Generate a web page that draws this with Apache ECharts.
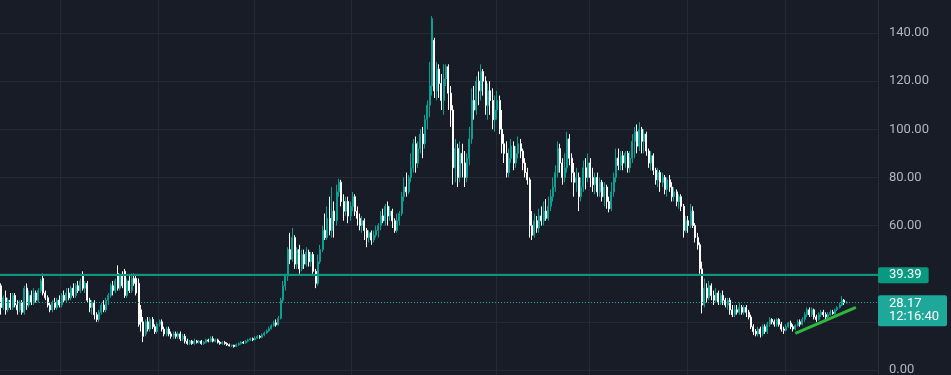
<!DOCTYPE html>
<html>
<head>
<meta charset="utf-8">
<script src="https://cdn.jsdelivr.net/npm/echarts@6.0.0/dist/echarts.min.js"></script>
<style>
html,body{margin:0;padding:0;background:#181c27;}
#chart{width:951px;height:375px;}
</style>
</head>
<body>
<div id="chart"></div>
<script>
// candles: [open, close, low, high]
const ohlc = [
[35,26,23,36],[26,30,25,31],[30,25,23,33],[25,29,24,30],[29,26,25,32],[26,31,25,32],[31,27,26,32],[27,25,23,29],[25,28,24,29],[28,24,23,29],
[24,34,23,35],[34,27,25,36],[27,31,26,33],[31,28,27,33],[28,32,27,34],[32,29,28,33],[29,33,28,34],[33,37,32,38],[38,32,31,40],[32,30,29,33],
[30,27,26,31],[27,25,24,28],[25,28,24,29],[28,26,25,30],[26,29,25,30],[29,27,26,31],[27,31,26,32],[31,29,28,33],[29,32,28,34],[32,30,29,34],
[30,34,29,35],[34,31,30,36],[31,35,30,36],[35,33,32,37],[33,37,32,38],[39,34,33,41],[34,36,32,37],[36,29,28,37],[29,26,24,30],[26,28,23,29],
[28,23,21,29],[23,21,20,24],[21,24,20,25],[24,27,23,28],[27,25,24,29],[25,29,24,30],[29,31,27,32],[31,35,30,36],[35,33,31,37],[33,37,32,38],
[40,34,33,43.5],[34,39,33,40],[39,35,34,41],[41,31,30,42],[31,37,30,38],[37,33,32,39],[33,38,32,40],[38,36,35,40],[38,32,31,39],[36,19,18,38],
[25,20,16,27],[20,14,11.6,22],[15,20,14,21],[20,17,16,22],[17,21,16,22],[21,18,17,22],[18,16,15,19],[16,19,15,20],[19,20,18,21],[20,17,16,21],
[17,15,14,18],[15,17,14,18],[17,15,14,18],[15,14,13,16],[14,15,13,16],[15,14,13,16],[14,15,13,16],[15,13,12,16],[13,14,12,15],[14,12,11,15],
[12,11,10.5,13],[11,12,10.5,12.5],[12,11,10.5,12.5],[11,12,10.5,13],[12,11.5,11,12.5],[11.5,12,11,12.5],[12,11,10.5,12.5],[11,11.5,10.5,12],[11.5,12.5,11,13],[12.5,12,11.5,13],
[12,13,11.5,14],[13,12,11.5,14],[12,12.5,11.5,13],[12.5,11.5,11,13],[11.5,11,10.5,12],[11,11.5,10.5,12],[11.5,11,10.5,12],[11,10.5,10,11.5],[10.5,10,9.8,11],[10,10.3,9.5,10.5],
[10.3,9.8,9.3,10.5],[9.8,10.5,9.5,11],[10.5,11,10,11.5],[11,11.5,10.5,12],[11.5,11.2,10.8,12],[11.2,12,11,12.5],[12,12.5,11.5,13],[12.5,13,12,13.5],[13,12.6,12,13.5],[12.6,13.2,12.3,14],
[13.2,14,13,14.5],[14,13.6,13,14.5],[13.6,14.6,13.2,15.2],[14.6,15.4,14,16],[15.4,16.2,15,16.8],[16.2,17.2,15.8,18],[17.2,18.4,16.8,19],[18.4,19.6,18,20.5],[19.6,18.8,18,21],[18.8,21.5,18.5,22.5],
[21.5,29,21,30],[29,35,28,37],[35,39,33,40],[39,50,37,51],[50,46,44,57],[46,55,45,59],[55,44,42,56],[44,50,42,51],[50,42,40,52],[42,48,41,50],
[48,44,42,50],[44,49,43,51],[49,45,43,50],[45,48,43,49],[48,41,40,49],[41,36,34,42],[36,45,35,48],[45,50,44,52],[50,58,49,60],[58,55,54,65],
[55,63,54,68],[63,58,56,72],[58,66,55,76],[66,62,55,70],[62,74,60,77],[74,78,72,79.5],[78,70,68,79],[70,66,62,73],[66,70,64,72],[70,64,61,72],
[64,68,62,70],[68,72,66,74],[72,66,64,73],[66,63,60,68],[63,60,58,65],[60,62,57,64],[62,58,54,63],[58,55,51,59],[55,57,53,58],[57,54,52,58],
[54,56,53,58],[56,58,55,60],[58,60,55,61],[60,64,58,66],[64,62,61,67],[62,68,60,69],[68,64,60,70],[64,66,62,68],[66,62,59,67],[62,58,57,63],
[58,62,57,65],[62,65,60,66],[65,72,64,74],[72,76,70,80],[76,74,72,82],[74,80,73,81],[80,84,78,90],[84,94,82,96],[94,86,82,97],[86,92,84,95],
[92,98,90,100],[98,94,88,101],[94,104,92,106],[104,110,100,112],[110,118,105,128],[118,146,114,147],[137,116,113,138],[116,125,112,128],[125,119,113,127],[119,112,108,123],
[112,121,106,127],[121,126,118,127],[126,115,108,127],[115,108,101,118],[108,84,77,110],[84,92,78,96],[92,80,76,94],[80,90,78,95],[90,86,80,94],[86,80,76,91],
[80,88,78,90],[88,96,85,101],[96,112,94,117],[112,108,104,118],[108,120,106,122],[120,116,110,124],[116,124,112,127],[124,120,114,125],[120,110,106,122],[110,116,104,119],
[116,112,106,120],[112,104,100,117],[104,108,99,114],[108,112,104,116],[112,100,98,114],[100,94,90,108],[94,90,86,98],[90,82,80,95],[82,88,80,92],[88,93,86,96],
[93,86,83,95],[86,90,84,93],[90,94,88,97],[94,91,88,96],[91,86,83,92],[86,82,80,88],[82,79,77,84],[79,60,55,80],[60,56,54,66],[56,62,55,65],
[62,59,57,64],[59,64,57,67],[64,62,60,68],[62,66,60,70],[66,63,62,71],[63,68,62,72],[68,72,66,75],[72,76,70,80],[76,82,74,85],[82,92,80,95],
[92,86,82,94],[86,80,77,88],[80,84,78,90],[84,96,82,99],[96,88,85,98],[88,82,78,90],[82,78,72,86],[78,80,74,84],[80,72,66,82],[72,76,70,80],
[76,84,74,87],[84,80,75,88],[80,86,78,90],[86,80,76,88],[80,77,74,84],[77,80,73,82],[80,74,72,82],[74,78,72,80],[78,72,70,79],[72,76,68,78],
[76,70,67,77],[70,67,65.5,72],[67,74,66,78],[74,80,72,82],[80,88,78,92],[88,85,83,92],[85,89,83,91],[89,86,83,91],[86,90,84,91],[90,84,82,91],
[84,88,82,91],[88,95,86,98],[95,99,88,101],[99,93,90,102],[93,100,91,103],[100,95,90,101],[95,98,90,100],[98,91,89,99],[91,86,84,92],[86,89,83,91],
[89,83,81,90],[83,79,77,84],[79,82,76,84],[82,78,74,83],[78,80,76,82],[80,75,73,81],[75,79,72,80],[79,76,74,81],[76,72,70,78],[72,74,70,76],
[74,70,68,75],[70,72,67,73],[72,68,66,73],[68,58,55,69],[58,62,57,64],[62,60,57,64],[60,66,59,69],[66,60,59,68],[60,55,53,61],[55,52,50,57],
[52,42,40,53],[42,27,23.5,45],[27,34,26,38],[34,30,28,36],[30,35,29,37],[35,31,29,36],[31,29,27,33],[29,32,28,34],[32,28,27,33],[28,31,27,32],
[31,29,27,33],[29,27,26,30],[27,29,25,30],[29,25,23,30],[25,23,22,27],[23,25,22,27],[25,24,23,27],[24,26,23,28],[26,24,23,27],[24,26,23,27],
[26,24,22,27],[24,22,21,25],[22,18,17,23],[18,16,14.5,19],[16,15,14,17],[15,17,14,18],[17,15,13.5,18],[15,18,14,19],[18,16,15,19],[16,19,15,20],
[19,21,18,22],[21,20,19,21.5],[20,19,18,21],[19,21,18,21.5],[21,19,18,21.5],[19,17,16,20],[17,16.5,15,18],[16.5,18,16,19],[18,19.5,17.5,20],[19.5,18,17,20.5],
[18,17,16,19],[17,18.5,16.5,19],[18.5,20,18,21],[20,19,18,21],[19,21,18.5,22],[21,23,20,24],[23,25,22,26],[25,23,22,26],[23,25,22,26],[25,22,21,25.5],
[22,21,20,23],[21,23,20.5,24],[23,24,22,25],[24,23,22,25],[23,22,21,24],[22,23,21.5,24],[23,24,22.5,25],[24,23.5,23,25],[23.5,25,23,25.5],[25,26,24.5,26.5],
[26,27,25.5,28],[27,29,26.5,30.7],[29,28,27,29.5],[28,28.17,27.5,28.6]
];
const slotCount = 377;                       // candles + empty right margin slots
const categories = Array.from({length: slotCount}, (_, i) => String(i + 1));
const gridLineIndex = [26, 68, 109, 151, 213, 253, 295, 337];
const yTicks = {min: -20, max: 160, step: 20};
const levelLine = 39.39;
const lastPrice = 28.17;
const countdown = '12:16:40';
const trendStart = [341, 15.2];
const trendEnd = [367, 26.0];

const UP = '#0c9f94', DOWN = '#ffffff', PRICE = '#1ea89a';
const GRID_RIGHT = 73;
const chart = echarts.init(document.getElementById('chart'), null, {renderer: 'canvas'});
chart.setOption({
  animation: false,
  backgroundColor: '#181c27',
  grid: {left: 0, right: GRID_RIGHT, top: -15.14, height: 433.3, containLabel: false, outerBoundsMode: 'none'},
  xAxis: {
    type: 'category', data: categories, boundaryGap: true,
    axisLine: {show: false}, axisTick: {show: false}, axisLabel: {show: false},
    splitLine: {show: true, interval: (i) => gridLineIndex.indexOf(i) >= 0,
      lineStyle: {color: '#252935', width: 1}}
  },
  yAxis: {
    type: 'value', position: 'right', min: yTicks.min, max: yTicks.max, interval: yTicks.step,
    axisLine: {show: true, lineStyle: {color: '#2a2e39'}},
    axisTick: {show: false},
    axisLabel: {color: '#b2b5be', fontFamily: 'Roboto', fontSize: 13, margin: 11,
      formatter: (v) => v.toFixed(2)},
    splitLine: {show: true, lineStyle: {color: '#252935', width: 1}}
  },
  series: [{
    type: 'candlestick',
    data: ohlc,
    barWidth: 1.5,
    clip: false,
    itemStyle: {color: UP, color0: DOWN, borderColor: UP, borderColor0: DOWN, borderWidth: 1},
    markLine: {
      silent: true, symbol: 'none', animation: false,
      data: [
        {yAxis: levelLine,
          lineStyle: {color: '#089981', width: 2, type: 'solid'},
          label: {show: true, position: 'end', distance: 0, formatter: levelLine.toFixed(2),
            color: '#ffffff', fontFamily: 'Roboto', fontSize: 13, lineHeight: 14,
            backgroundColor: '#089981', padding: [1, 7, 1, 11], borderRadius: 2}},
        {yAxis: lastPrice,
          lineStyle: {color: PRICE, width: 1, type: [1, 2]},
          label: {show: false}},
        [{coord: trendStart, lineStyle: {color: '#2fb83e', width: 3, type: 'solid'}, label: {show: false}},
         {coord: trendEnd}]
      ]
    }
  }]
});

// current-price tag: first line sits on the price level, countdown below it
const py = chart.convertToPixel({yAxisIndex: 0}, lastPrice);
const px = chart.getWidth() - GRID_RIGHT;
chart.setOption({
  graphic: [{
    type: 'group', x: px, y: py - 7, z: 100,
    children: [
      {type: 'rect', shape: {x: 0, y: 0, width: 69, height: 31, r: 2}, style: {fill: PRICE}, z: 100},
      {type: 'text', x: 11, y: 8.5, z: 101,
        style: {text: lastPrice.toFixed(2), fill: '#ffffff', font: '13px Roboto', verticalAlign: 'middle'}},
      {type: 'text', x: 11, y: 22, z: 101,
        style: {text: countdown, fill: '#ffffff', font: '13px Roboto', verticalAlign: 'middle'}}
    ]
  }]
});
</script>
</body>
</html>
